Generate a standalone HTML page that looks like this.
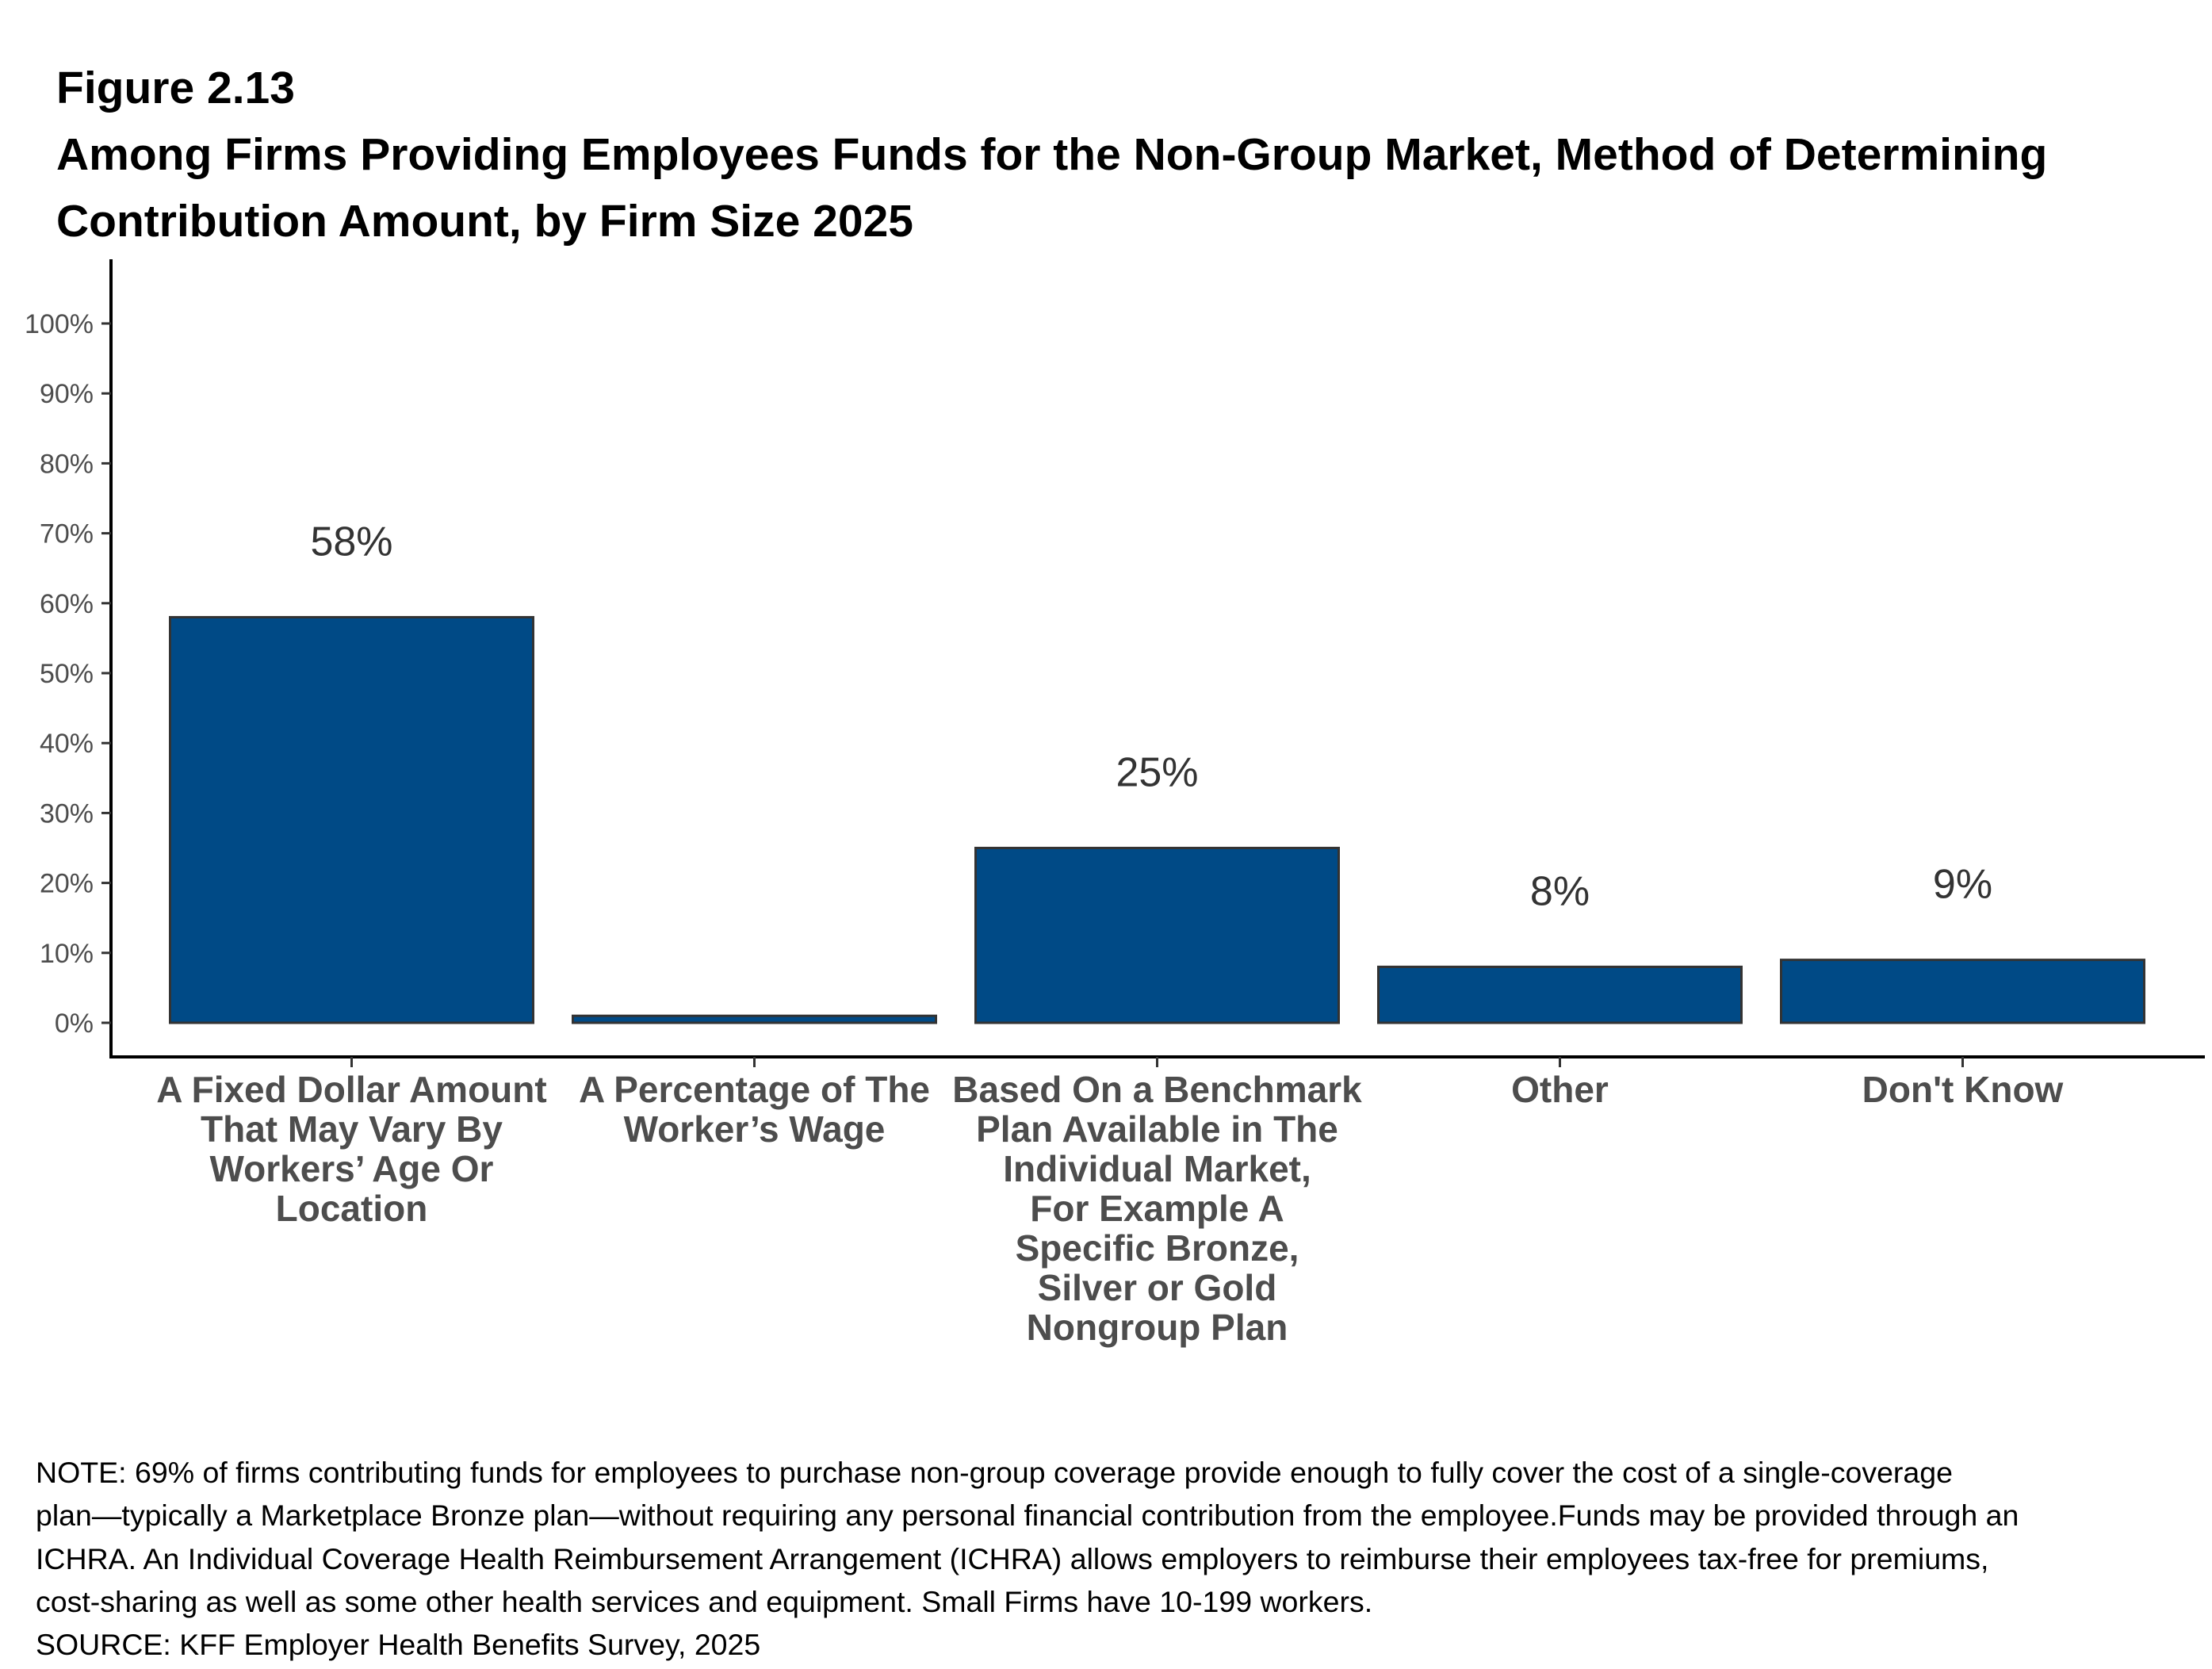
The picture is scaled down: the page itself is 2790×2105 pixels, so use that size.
<!DOCTYPE html>
<html><head><meta charset="utf-8"><style>
html,body{margin:0;padding:0;background:#fff;}
body{width:2790px;height:2100px;overflow:hidden;font-family:"Liberation Sans",Arial,sans-serif;}
</style></head><body>
<svg id="chart" width="2790" height="2100" xmlns="http://www.w3.org/2000/svg" font-family="Liberation Sans, Arial, sans-serif">
  <text x="71" y="130" font-size="57" font-weight="bold" fill="#000">Figure 2.13</text>
  <text x="71" y="214" font-size="57" font-weight="bold" fill="#000">Among Firms Providing Employees Funds for the Non-Group Market, Method of Determining</text>
  <text x="71" y="298" font-size="57" font-weight="bold" fill="#000">Contribution Amount, by Firm Size 2025</text>
  <g id="yaxis"></g>
  <g id="bars"></g>
  <g id="xaxis"></g>
  <g font-size="37.5" fill="#000">
    <text x="45" y="1870">NOTE: 69% of firms contributing funds for employees to purchase non-group coverage provide enough to fully cover the cost of a single-coverage</text>
    <text x="45" y="1924">plan—typically a Marketplace Bronze plan—without requiring any personal financial contribution from the employee.Funds may be provided through an</text>
    <text x="45" y="1979">ICHRA. An Individual Coverage Health Reimbursement Arrangement (ICHRA) allows employers to reimburse their employees tax-free for premiums,</text>
    <text x="45" y="2033">cost-sharing as well as some other health services and equipment. Small Firms have 10-199 workers.</text>
    <text x="45" y="2087">SOURCE: KFF Employer Health Benefits Survey, 2025</text>
  </g>
</svg>
<script>
const categories = [
  ["A Fixed Dollar Amount","That May Vary By","Workers’ Age Or","Location"],
  ["A Percentage of The","Worker’s Wage"],
  ["Based On a Benchmark","Plan Available in The","Individual Market,","For Example A","Specific Bronze,","Silver or Gold","Nongroup Plan"],
  ["Other"],
  ["Don't Know"]
];
const values = [58, 1, 25, 8, 9];
const valueLabels = ["58%", "", "25%", "8%", "9%"];
const yTicks = [0,10,20,30,40,50,60,70,80,90,100];

const NS = "http://www.w3.org/2000/svg";
const y0 = 1290, yPer = 8.82;
const xStart = 443.5, step = 508, barW = 458;
function yScale(v){ return y0 - v*yPer; }
function xScale(i){ return xStart + i*step; }
function mk(tag, attrs, parent){ const e=document.createElementNS(NS,tag); for(const k in attrs) e.setAttribute(k,attrs[k]); parent.appendChild(e); return e; }

const ya = document.getElementById('yaxis');
const axisLine = mk('line',{x1:140,y1:327,x2:140,y2:1334,stroke:'#000','stroke-width':4},ya);


yTicks.forEach(t=>{
  const y=yScale(t);
  const tk = mk('line',{x1:128,y1:y,x2:140,y2:y,stroke:'#333','stroke-width':3},ya);
  
  
  const lb = mk('text',{x:118,y:y+12,'text-anchor':'end','font-size':34,fill:'#4d4d4d'},ya);
  lb.textContent = t+'%';
  
  
});

const bg = document.getElementById('bars');
values.forEach((v,i)=>{
  const cx = xScale(i);
  const r = mk('rect',{x:cx-barW/2,y:yScale(v),width:barW,height:y0-yScale(v),fill:'#004a86',stroke:'#333','stroke-width':3},bg);
  
  
  if(valueLabels[i]){
    const t = mk('text',{x:cx,y:yScale(v)-78,'text-anchor':'middle','font-size':52,fill:'#333'},bg);
    t.textContent = valueLabels[i];
    
    
  }
});

const xa = document.getElementById('xaxis');
const xl = mk('line',{x1:138,y1:1333,x2:2781,y2:1333,stroke:'#000','stroke-width':4},xa);


categories.forEach((lines,i)=>{
  const cx = xScale(i);
  const tk = mk('line',{x1:cx,y1:1333,x2:cx,y2:1346,stroke:'#333','stroke-width':3},xa);
  
  
  const t = mk('text',{x:cx,y:1390,'text-anchor':'middle','font-size':46,'font-weight':'bold',fill:'#4d4d4d'},xa);
  
  
  lines.forEach((ln,j)=>{
    const s = mk('tspan',{x:cx,dy:j===0?0:50},t);
    s.textContent = ln;
  });
});
</script>
</body></html>
